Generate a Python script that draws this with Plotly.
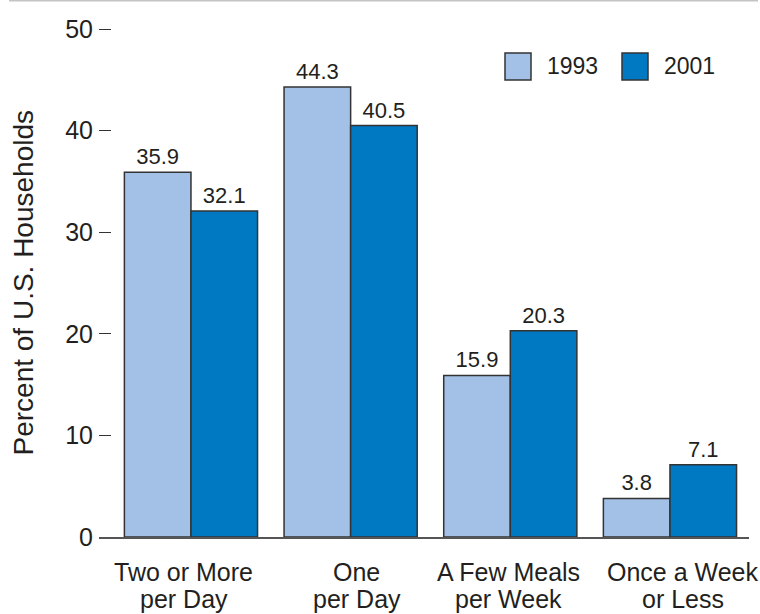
import plotly.graph_objects as go

# Frequency of home-cooked main meals, share of U.S. households
categories = ["Two or More per Day", "One per Day", "A Few Meals per Week", "Once a Week or Less"]
label_lines = [["Two or More", "per Day"], ["One", "per Day"],
               ["A Few Meals", "per Week"], ["Once a Week", "or Less"]]
years = ["1993", "2001"]
values_1993 = [35.9, 44.3, 15.9, 3.8]
values_2001 = [32.1, 40.5, 20.3, 7.1]
colors = ["#a3c1e6", "#0079c2"]
y_ticks = [0, 10, 20, 30, 40, 50]

FONT = "Liberation Sans, Arial, Helvetica, sans-serif"
TEXT = "#231f20"
EDGE = "#333333"

W, H = 760, 614
L, R, T, B = 99, 11, 27, 77

fig = go.Figure()
for name, vals, col in zip(years, [values_1993, values_2001], colors):
    fig.add_trace(go.Bar(
        x=categories, y=vals, name=name,
        marker=dict(color=col, line=dict(color=EDGE, width=1.5)),
        text=[f"{v:.1f}" for v in vals],
        textposition="outside",
        textfont=dict(family=FONT, size=22, color=TEXT),
        cliponaxis=False,
        showlegend=False,
    ))

fig.update_layout(
    width=W, height=H,
    margin=dict(l=L, r=R, t=T, b=B, pad=0),
    paper_bgcolor="white", plot_bgcolor="white",
    barmode="group", bargap=0.166, bargroupgap=0,
    font=dict(family=FONT, color=TEXT),
)

fig.update_xaxes(
    range=[-0.576, 3.495],
    showgrid=False, zeroline=False,
    showline=True, linecolor="#555555", linewidth=1.5,
    ticks="", showticklabels=False,
)
fig.update_yaxes(
    range=[0, 50.2], tickvals=y_ticks,
    showgrid=False, zeroline=False, showline=False,
    ticks="inside", ticklen=12, tickwidth=1, tickcolor=EDGE,
    tickfont=dict(family=FONT, size=25, color=TEXT),
    ticklabelstandoff=5,
)

pw, ph = W - L - R, H - T - B

def px(x):
    return (x - L) / pw

def py(y):
    return (H - B - y) / ph

# y-axis title
fig.add_annotation(xref="paper", yref="paper", x=px(23), y=py(282.5),
                   text="Percent of U.S. Households", textangle=-90,
                   showarrow=False, xanchor="center", yanchor="middle",
                   font=dict(family=FONT, size=28, color=TEXT))

# two-line category labels under each group
label_shift = [-7, 6, -2, 13]
line_y = [572, 599]
for cat, lines, dx in zip(categories, label_lines, label_shift):
    for text, yy in zip(lines, line_y):
        fig.add_annotation(xref="x", yref="paper", x=cat, y=py(yy), xshift=dx,
                           text=text, showarrow=False,
                           xanchor="center", yanchor="middle",
                           font=dict(family=FONT, size=25, color=TEXT))

# thin rule across the top of the figure
fig.add_shape(type="line", xref="paper", yref="paper",
              x0=px(9), x1=px(758), y0=py(0.8), y1=py(0.8),
              line=dict(color="#c4c4c4", width=1.5))

# legend keys
box_left = [505, 622]
for i, (name, col) in enumerate(zip(years, colors)):
    x0 = box_left[i]
    fig.add_shape(type="rect", xref="paper", yref="paper",
                  x0=px(x0), x1=px(x0 + 26), y0=py(80), y1=py(53),
                  fillcolor=col, line=dict(color=EDGE, width=1.5))
    fig.add_annotation(xref="paper", yref="paper", x=px(x0 + 40), y=py(66.5),
                       text=name, showarrow=False, xanchor="left", yanchor="middle",
                       font=dict(family=FONT, size=23, color=TEXT))

fig.write_html("out.html")
